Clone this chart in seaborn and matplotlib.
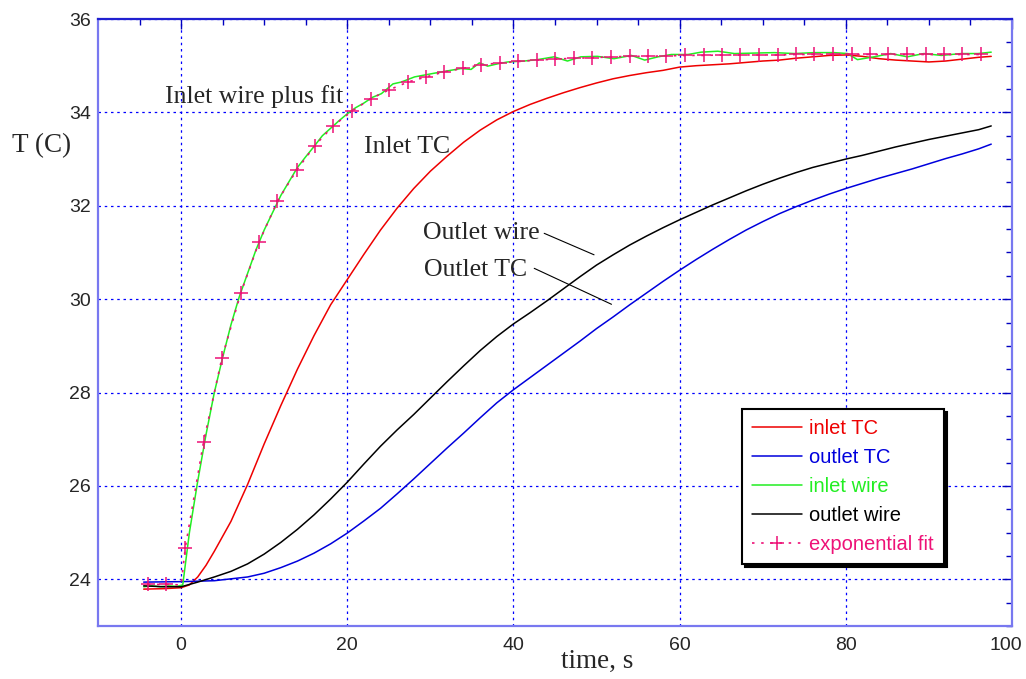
import matplotlib
matplotlib.use("Agg")
import matplotlib.pyplot as plt
import matplotlib.transforms as mtransforms
import seaborn as sns
import pandas as pd

# inlet thermocouple
t_in_tc = [-4.5, -2, 0, 1, 2, 3, 4, 6, 8, 10, 12, 14, 16, 18, 20, 22, 24, 26, 28, 30,
           32, 34, 36, 38, 40, 42, 44, 46, 48, 50, 52, 54, 56, 58, 60, 62, 64, 66, 68, 70,
           72, 74, 76, 78, 80, 82, 84, 86, 88, 90, 92, 94, 96, 97.5]
inlet_tc = [23.79, 23.80, 23.82, 23.88, 24.05, 24.30, 24.60, 25.24, 26.03, 26.90, 27.72,
            28.50, 29.22, 29.88, 30.42, 30.96, 31.48, 31.95, 32.37, 32.74, 33.06, 33.36,
            33.62, 33.84, 34.02, 34.17, 34.30, 34.42, 34.53, 34.63, 34.72, 34.79, 34.85,
            34.90, 34.97, 35.00, 35.02, 35.04, 35.07, 35.10, 35.12, 35.16, 35.19, 35.22,
            35.23, 35.20, 35.15, 35.12, 35.10, 35.08, 35.10, 35.14, 35.18, 35.20]

# outlet thermocouple
t_out_tc = [-4.5, 0, 4, 8, 10, 12, 14, 16, 18, 20, 22, 24, 26, 28, 30, 32, 34, 36, 38, 40,
            42, 44, 46, 48, 50, 52, 54, 56, 58, 60, 62, 64, 66, 68, 70, 72, 74, 76, 78, 80,
            82, 84, 86, 88, 90, 92, 94, 96, 97.5]
outlet_tc = [23.94, 23.95, 23.97, 24.05, 24.13, 24.25, 24.39, 24.56, 24.76, 24.99, 25.25,
             25.52, 25.83, 26.15, 26.48, 26.81, 27.13, 27.46, 27.78, 28.06, 28.32, 28.58,
             28.84, 29.10, 29.37, 29.62, 29.88, 30.13, 30.38, 30.62, 30.85, 31.07, 31.28,
             31.48, 31.66, 31.83, 31.98, 32.12, 32.25, 32.37, 32.48, 32.59, 32.69, 32.79,
             32.90, 33.01, 33.11, 33.22, 33.32]

# inlet hot wire
t_in_wire = [-4.5, -3.5, -2.5, -1.5, -0.5, 0.2, 1, 2, 3, 4, 5, 6, 7, 8, 9, 10, 11, 12, 13,
             14, 15, 16, 17, 18, 19, 20, 21, 22, 23, 24.1, 25.5, 26.5, 28.1, 30.5, 32.1,
             33.7, 34.9, 35.9, 36.9, 38.1, 39.3, 41.3, 42.9, 44.9, 46.5, 48.1, 50.1, 52.1,
             54.2, 55.8, 57.4, 59.0, 61.0, 62.6, 64.6, 66.6, 69.0, 71.4, 73.8, 76.2, 78.6,
             80.2, 81.4, 83.4, 85.4, 87.4, 89.4, 91.5, 93.9, 95.9, 97.5]
inlet_wire = [23.84, 23.86, 23.84, 23.86, 23.85, 23.88, 25.00, 26.10, 27.10, 28.00, 28.75,
              29.45, 30.05, 30.55, 31.05, 31.48, 31.85, 32.22, 32.52, 32.82, 33.05, 33.27,
              33.50, 33.66, 33.82, 33.97, 34.10, 34.20, 34.32, 34.40, 34.61, 34.65, 34.76,
              34.84, 34.89, 34.94, 34.92, 35.06, 34.99, 35.04, 35.08, 35.10, 35.13, 35.19,
              35.10, 35.19, 35.20, 35.15, 35.22, 35.12, 35.19, 35.24, 35.24, 35.29, 35.31,
              35.26, 35.27, 35.28, 35.26, 35.28, 35.28, 35.26, 35.13, 35.19, 35.26, 35.19,
              35.26, 35.22, 35.26, 35.26, 35.29]

# outlet hot wire
t_out_wire = [-4.5, -2, 0, 2, 4, 6, 8, 10, 12, 14, 16, 18, 20, 22, 24, 26, 28, 30, 32, 34,
              36, 38, 40, 42, 44, 46, 48, 50, 52, 54, 56, 58, 60, 62, 64, 66, 68, 70, 72,
              74, 76, 78, 80, 82, 84, 86, 88, 90, 92, 94, 96, 97.5]
outlet_wire = [23.86, 23.84, 23.84, 23.94, 24.05, 24.17, 24.33, 24.54, 24.79, 25.07, 25.38,
               25.72, 26.08, 26.47, 26.85, 27.20, 27.53, 27.88, 28.23, 28.57, 28.90, 29.20,
               29.47, 29.71, 29.96, 30.22, 30.48, 30.73, 30.95, 31.16, 31.35, 31.53, 31.70,
               31.86, 32.02, 32.17, 32.32, 32.46, 32.59, 32.71, 32.82, 32.91, 33.00, 33.08,
               33.17, 33.26, 33.34, 33.42, 33.49, 33.56, 33.63, 33.71]

# exponential fit to the inlet wire (index 2 is the start of the rise, no marker there)
t_fit = [-4.0, -1.8, 0.0, 0.5, 2.7, 4.9, 7.2, 9.4, 11.6, 13.9, 16.1, 18.3, 20.6, 22.8, 25.0,
         27.3, 29.5, 31.7, 33.9, 36.1, 38.4, 40.6, 42.8, 45.0, 47.3, 49.5, 51.7, 54.0, 56.2,
         58.4, 60.6, 62.9, 65.1, 67.3, 69.5, 71.8, 74.0, 76.2, 78.5, 80.7, 82.9, 85.1, 87.4,
         89.6, 91.8, 94.0, 96.3]
exp_fit = [23.89, 23.89, 23.88, 24.67, 26.94, 28.73, 30.14, 31.23, 32.10, 32.76, 33.29,
           33.71, 34.03, 34.29, 34.48, 34.65, 34.76, 34.87, 34.94, 35.02, 35.06, 35.09,
           35.12, 35.14, 35.16, 35.17, 35.19, 35.20, 35.20, 35.21, 35.22, 35.22, 35.23,
           35.23, 35.23, 35.23, 35.24, 35.24, 35.24, 35.24, 35.24, 35.24, 35.24, 35.24,
           35.24, 35.24, 35.24]

sns.set_style("white")
plt.rcParams['font.family'] = ['Liberation Sans', 'DejaVu Sans']

fig = plt.figure(figsize=(10.26, 6.79), dpi=100)
ax = fig.add_axes([98 / 1026, 53 / 679, 914 / 1026, 607 / 679])

lw = 1.1
sns.lineplot(x=t_in_tc, y=inlet_tc, ax=ax, color='#ee0000', lw=lw, label='inlet TC')
sns.lineplot(x=t_out_tc, y=outlet_tc, ax=ax, color='#0000dd', lw=lw, label='outlet TC')
sns.lineplot(x=t_in_wire, y=inlet_wire, ax=ax, color='#22ee22', lw=lw, label='inlet wire')
sns.lineplot(x=t_out_wire, y=outlet_wire, ax=ax, color='black', lw=lw, label='outlet wire')
fit_marks = [i for i in range(len(t_fit)) if i != 2]
sns.lineplot(x=t_fit, y=exp_fit, ax=ax, color='#ee1177', lw=1.2, linestyle=(0, (1.5, 4)),
             marker='+', markersize=10, markeredgewidth=1.1, markeredgecolor='#ee1177',
             markevery=fit_marks, label='exponential fit')

ax.set_xlim(-10, 100)
ax.set_ylim(23, 36)
ax.set_xticks([0, 20, 40, 60, 80, 100])
ax.set_xticks(range(-5, 100, 5), minor=True)
ax.set_yticks([24, 26, 28, 30, 32, 34, 36])
ax.set_yticks([23 + 0.5 * i for i in range(27)], minor=True)
ax.grid(True, which='major', color='#0000ff', linestyle=(0, (2, 3)), lw=0.9)
ax.tick_params(which='both', direction='in', top=True, right=True, color='#0000c0',
               labelsize=14)
ax.tick_params(which='major', length=7, width=1)
ax.tick_params(which='minor', length=4, width=1)
ax.tick_params(axis='x', pad=8)
ax.tick_params(axis='y', pad=5)
for s in ax.spines.values():
    s.set_color('#7878f0')
    s.set_linewidth(1.6)
ax.spines['top'].set_color('#2020d0')

# keep the last x label inside the figure, as in the original
fig.canvas.draw()
last = ax.get_xticklabels()[-1]
last.set_transform(last.get_transform() +
                   mtransforms.ScaledTranslation(-6 / 100, 0, fig.dpi_scale_trans))

serif = ['Liberation Serif', 'DejaVu Serif']
ax.set_xlabel('time, s', family=serif, fontsize=19.5, va='center')
ax.xaxis.set_label_coords(0.546, -0.059)
ax.set_ylabel('T (C)', family=serif, fontsize=19.5, rotation=0, va='center', ha='center')
ax.yaxis.set_label_coords(-0.062, 0.791)

ax.text(-1.9, 34.21, 'Inlet wire plus fit', family=serif, fontsize=18.5)
ax.text(22.0, 33.14, 'Inlet TC', family=serif, fontsize=18.5)
ax.text(29.1, 31.29, 'Outlet wire', family=serif, fontsize=18.5)
ax.text(29.2, 30.50, 'Outlet TC', family=serif, fontsize=18.5)
ax.annotate('', xy=(49.7, 30.95), xytext=(43.7, 31.41),
            arrowprops=dict(arrowstyle='-', color='black', lw=0.8, shrinkA=0, shrinkB=0))
ax.annotate('', xy=(51.8, 29.89), xytext=(42.5, 30.66),
            arrowprops=dict(arrowstyle='-', color='black', lw=0.8, shrinkA=0, shrinkB=0))

leg = ax.legend(loc='upper left', bbox_to_anchor=(0.7046, 0.3575), borderaxespad=0,
                fontsize=14.5, handlelength=2.5, handletextpad=0.35, labelspacing=0.5,
                borderpad=0.5, fancybox=False, framealpha=1, edgecolor='black',
                labelcolor='linecolor', shadow={'color': 'black', 'alpha': 1},
                numpoints=1)
leg.get_frame().set_linewidth(1.5)

fig.savefig('out.png', dpi=100)
